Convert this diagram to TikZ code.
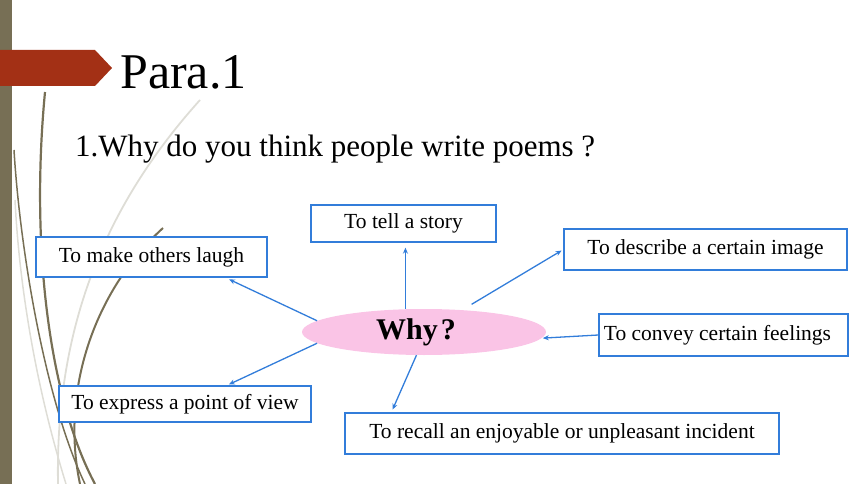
\documentclass[tikz,border=0pt]{standalone}
\usepackage{fontspec}
\setmainfont{Liberation Serif}
\usepackage{xcolor}
\usepackage{tikz}
\usetikzlibrary{arrows.meta,shapes.geometric}
\definecolor{barolive}{RGB}{119,111,85}
\definecolor{tagred}{RGB}{163,48,21}
\definecolor{grassgray}{RGB}{222,221,214}
\definecolor{linkblue}{RGB}{50,125,218}
\definecolor{whypink}{RGB}{250,196,230}

\begin{document}
\begin{tikzpicture}[x=1pt,y=-1pt,
    box/.style={draw=linkblue,fill=white,line width=1.3pt,inner sep=0pt,font=\fontsize{21.5}{24}\selectfont},
    link/.style={draw=linkblue,line width=1.3pt,-{Stealth[length=6pt,width=5pt]}}]
        \useasboundingbox (0,0) rectangle (860,484);
        % Side bar and grass
        \fill[barolive] (0,0) rectangle (12,484);
        \draw[grassgray,line width=1.8pt] (200,100) .. controls (110,200) and (55,320) .. (58,484);
        \draw[grassgray,line width=1.5pt] (15,200) .. controls (20,300) and (40,400) .. (66,484);
        \draw[barolive,line width=1.5pt] (14,150) .. controls (20,250) and (45,400) .. (85,484);
        \draw[barolive,line width=2.2pt] (45,92) .. controls (30,250) and (50,400) .. (95,484);
        \draw[barolive,line width=2pt] (163,228) .. controls (95,290) and (60,390) .. (80,484);
        % Title tag
        \fill[tagred] (0,50) -- (95,50) -- (112,68) -- (95,86) -- (0,86) -- cycle;
        \node[anchor=base west,inner sep=0pt,font=\fontsize{50}{56}\selectfont] (title) at (120,89) {Para.1};
        \node[anchor=base west,inner sep=0pt,font=\fontsize{31}{36}\selectfont] (question) at (75,157) {1.Why do you think people write poems ?};
        % Centre and boxes
        \node[ellipse,fill=whypink,inner sep=0pt,minimum width=244pt,minimum height=46pt,
              font=\fontsize{30}{34}\selectfont\bfseries] (why) at (424,332) {\hspace*{-16pt}Why\kern3pt?};
        \node[box,minimum width=185pt,minimum height=37pt] (story) at (403.5,223.5) {To tell a story};
        \node[box,minimum width=231pt,minimum height=40pt] (laugh) at (151.5,257) {To make others laugh};
        \node[box,minimum width=283pt,minimum height=41pt] (describe) at (705.5,249.5) {To describe a certain image};
        \node[box,minimum width=249pt,minimum height=42pt] (convey) at (723.5,335) {\hspace*{-12pt}To convey certain feelings};
        \node[box,minimum width=252pt,minimum height=36pt] (express) at (185,404) {To express a point of view};
        \node[box,minimum width=434pt,minimum height=41pt] (recall) at (562,433.5) {To recall an enjoyable or unpleasant incident};
        % Arrows
        \draw[link,shorten >=5pt] (why.129) -- (why.129 |- story.south);
        \draw[link,shorten <=11pt,shorten >=2pt] (why.30) -- (describe.west);
        \draw[link,shorten >=1pt] (convey.west) -- (why.-3);
        \draw[link,shorten >=3pt] (why.-108) -- ([xshift=47pt]recall.north west);
        \draw[link,shorten >=4pt] (why.174) -- ([xshift=74pt]laugh.south);
        \draw[link,shorten >=2pt] (why.186) -- ([xshift=42pt]express.north);
    \end{tikzpicture}
\end{document}
